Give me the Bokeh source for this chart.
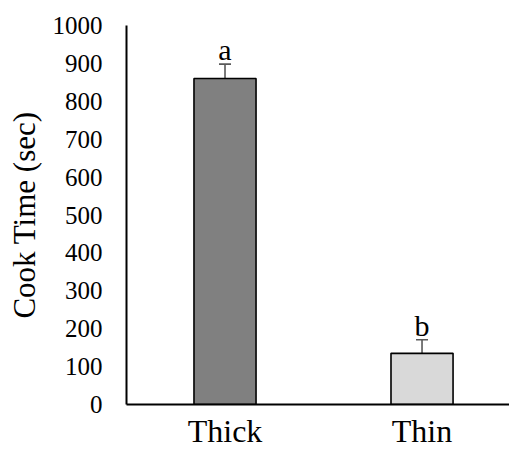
from bokeh.plotting import figure
from bokeh.models import ColumnDataSource, FixedTicker, Whisker, TeeHead
from bokeh.core.properties import value
from bokeh.embed import file_html
from bokeh.resources import INLINE

# Mean cook time per cut, with standard error and significance letters
categories = ["Thick", "Thin"]
cook_time = [860, 135]
std_err = [38, 36]
letters = ["a", "b"]
fills = ["#808080", "#d9d9d9"]
y_ticks = [0, 100, 200, 300, 400, 500, 600, 700, 800, 900, 1000]

xpos = [i + 1 for i in range(len(categories))]
src = ColumnDataSource(dict(
    x=xpos,
    top=cook_time,
    upper=[v + e for v, e in zip(cook_time, std_err)],
    label=letters,
    fill=fills,
))

FONT = "Liberation Serif"

p = figure(width=509, height=452, output_backend="svg", toolbar_location=None,
           x_range=(0.5, 2.444), y_range=(0, 1000),
           min_border_left=126, min_border_right=0, min_border_top=25,
           min_border_bottom=48)
p.outline_line_color = None
p.grid.visible = False

p.vbar(x="x", top="top", width=0.315, source=src, fill_color="fill",
       line_color="black", line_width=1.6)

whisk = Whisker(base="x", lower="top", upper="upper", source=src,
                line_color="#595959", line_width=1.6,
                upper_head=TeeHead(size=12, line_color="#595959", line_width=1.6),
                lower_head=None)
p.add_layout(whisk)

p.text(x="x", y="upper", text="label", source=src, text_align="center",
       text_baseline="bottom", y_offset=2, text_font=value(FONT),
       text_font_size="30px", text_color="black")

# axes
p.xaxis.ticker = FixedTicker(ticks=xpos)
p.xaxis.major_label_overrides = {x: c for x, c in zip(xpos, categories)}
p.yaxis.ticker = FixedTicker(ticks=y_ticks)
for ax in (p.xaxis[0], p.yaxis[0]):
    ax.axis_line_color = "black"
    ax.axis_line_width = 2
    ax.major_tick_line_color = None
    ax.minor_tick_line_color = None
    ax.major_tick_out = 0
    ax.major_tick_in = 0
    ax.minor_tick_out = 0
    ax.minor_tick_in = 0
    ax.major_label_text_font = FONT
    ax.major_label_text_color = "black"
p.xaxis.major_label_text_font_size = "32px"
p.xaxis.major_label_standoff = 8
p.yaxis.major_label_text_font_size = "25px"
p.yaxis.major_label_standoff = 24
p.yaxis.axis_label = "Cook Time (sec)"
p.yaxis.axis_label_text_font = FONT
p.yaxis.axis_label_text_font_style = "normal"
p.yaxis.axis_label_text_font_size = "31px"
p.yaxis.axis_label_text_color = "black"
p.yaxis.axis_label_standoff = 8

open("out.html", "w").write(file_html(p, INLINE))
